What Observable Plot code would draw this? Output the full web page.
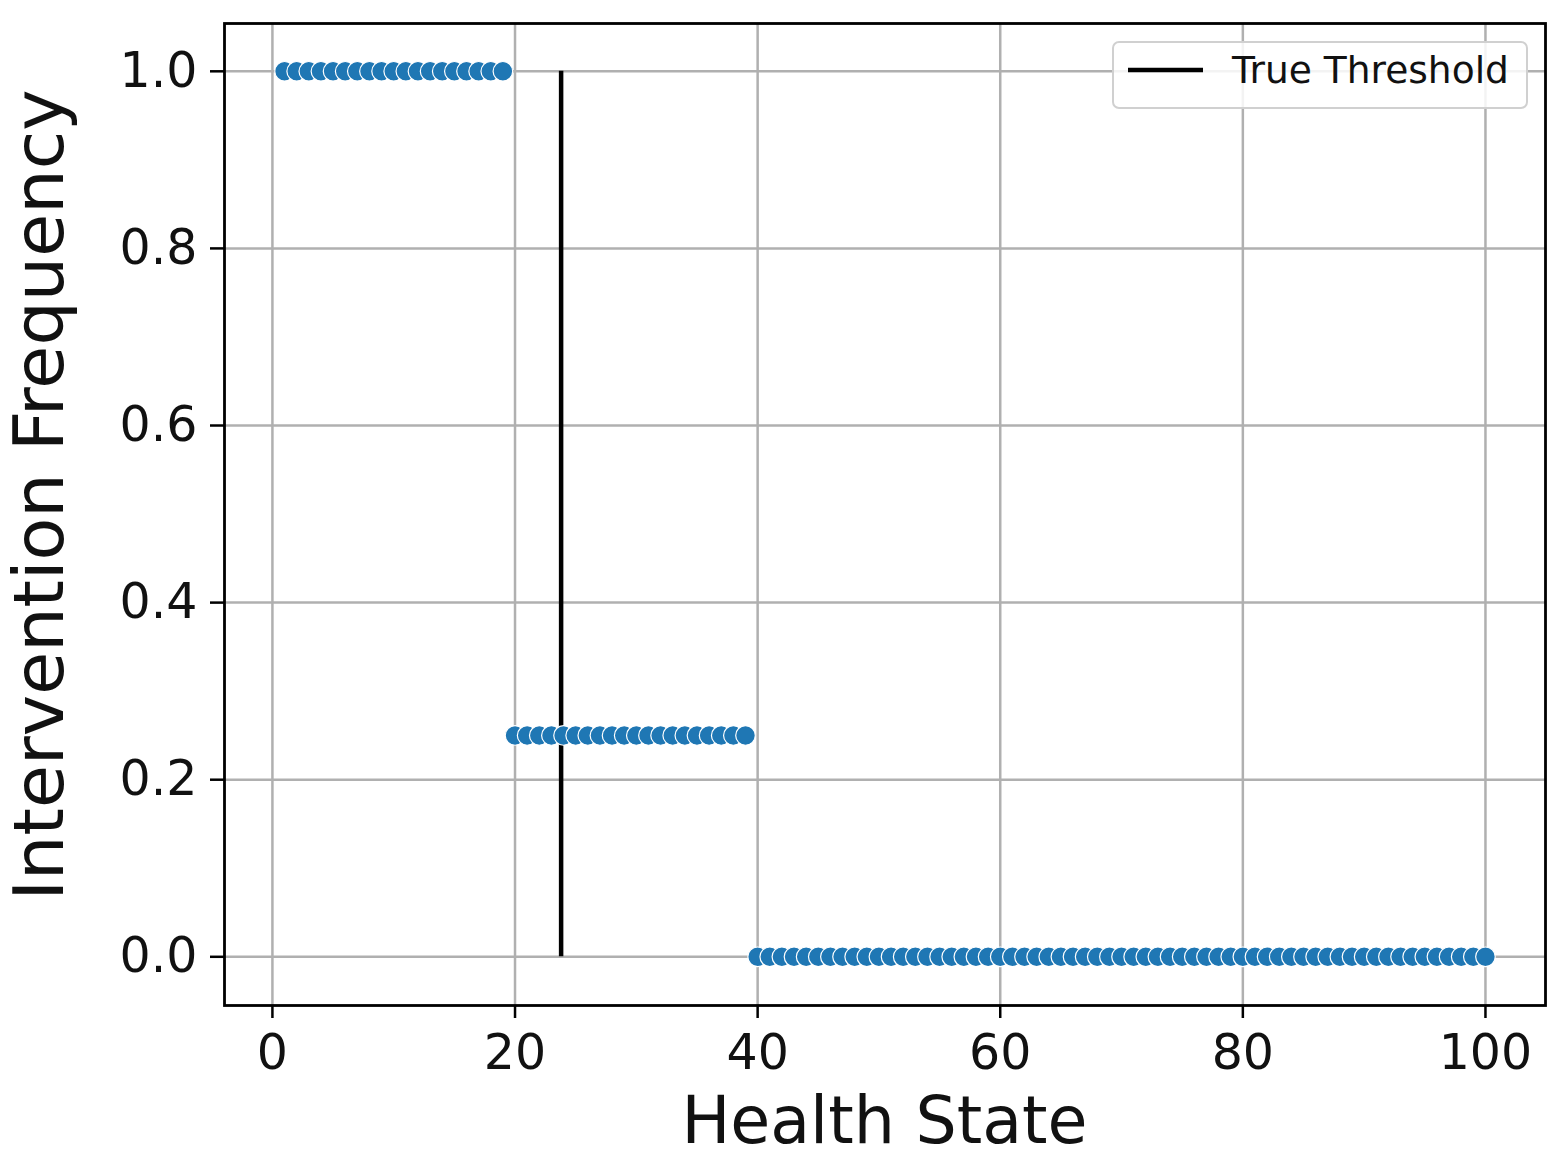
<!DOCTYPE html>
<html>
<head>
<meta charset="utf-8">
<script src="https://cdn.jsdelivr.net/npm/d3@7"></script>
<script src="https://cdn.jsdelivr.net/npm/@observablehq/plot@0.6"></script>
<style>
  html, body { margin: 0; padding: 0; background: #fff; }
  #chart { width: 1560px; height: 1160px; }
  svg { font-family: "DejaVu Sans", sans-serif; }
</style>
</head>
<body>
<div id="chart"></div>
<script>
// Health states (x) and intervention frequency (y)
const healthState = [
  1,2,3,4,5,6,7,8,9,10,11,12,13,14,15,16,17,18,19,
  20,21,22,23,24,25,26,27,28,29,30,31,32,33,34,35,36,37,38,39,
  40,41,42,43,44,45,46,47,48,49,50,51,52,53,54,55,56,57,58,59,
  60,61,62,63,64,65,66,67,68,69,70,71,72,73,74,75,76,77,78,79,
  80,81,82,83,84,85,86,87,88,89,90,91,92,93,94,95,96,97,98,99,100
];
const frequency = [
  1,1,1,1,1,1,1,1,1,1,1,1,1,1,1,1,1,1,1,
  0.25,0.25,0.25,0.25,0.25,0.25,0.25,0.25,0.25,0.25,0.25,0.25,0.25,0.25,0.25,0.25,0.25,0.25,0.25,0.25,
  0,0,0,0,0,0,0,0,0,0,0,0,0,0,0,0,0,0,0,0,
  0,0,0,0,0,0,0,0,0,0,0,0,0,0,0,0,0,0,0,0,
  0,0,0,0,0,0,0,0,0,0,0,0,0,0,0,0,0,0,0,0,0
];
const trueThreshold = [{x: 23.8, y1: 0, y2: 1}];
const xTicks = [0, 20, 40, 60, 80, 100];
const yTicks = [0, 0.2, 0.4, 0.6, 0.8, 1.0];
const xLabel = "Health State";
const yLabel = "Intervention Frequency";
const legendLabel = "True Threshold";

const points = healthState.map((x, i) => ({x, y: frequency[i]}));

const W = 1560, H = 1160;
const mL = 224, mT = 23, mR = 15, mB = 155;

const plot = Plot.plot({
  width: W,
  height: H,
  marginLeft: mL,
  marginTop: mT,
  marginRight: mR,
  marginBottom: mB,
  style: {fontFamily: "DejaVu Sans, sans-serif", background: "white", overflow: "visible"},
  x: {domain: [-3.95, 104.95]},
  y: {domain: [-0.055, 1.054]},
  marks: [
    Plot.gridX(xTicks, {stroke: "#b0b0b0", strokeOpacity: 1, strokeWidth: 2.5}),
    Plot.gridY(yTicks, {stroke: "#b0b0b0", strokeOpacity: 1, strokeWidth: 2.5}),
    Plot.axisX(xTicks, {tickSize: 13, tickPadding: 16, fontSize: 49, tickFormat: d => String(d), label: null, stroke: "black", strokeWidth: 2.5, color: "#111"}),
    Plot.axisY(yTicks, {tickSize: 14, tickPadding: 13, fontSize: 49, tickFormat: d => d.toFixed(1), label: null, stroke: "black", strokeWidth: 2.5, color: "#111"}),
    Plot.ruleX(trueThreshold, {x: "x", y1: "y1", y2: "y2", stroke: "black", strokeWidth: 4.5}),
    Plot.dot(points, {x: "x", y: "y", r: 9.8, fill: "#1f77b4", stroke: "white", strokeWidth: 1.2}),
    Plot.frame({stroke: "black", strokeWidth: 2.8})
  ]
});

const svg = d3.select(plot);
// Axis titles
svg.append("text")
  .attr("x", (mL + (W - mR)) / 2)
  .attr("y", 1143)
  .attr("text-anchor", "middle")
  .attr("font-size", 65)
  .attr("fill", "#111")
  .text(xLabel);
svg.append("text")
  .attr("transform", "translate(63,495) rotate(-90)")
  .attr("text-anchor", "middle")
  .attr("font-size", 70)
  .attr("fill", "#111")
  .text(yLabel);

// Legend
const lg = svg.append("g");
lg.append("rect")
  .attr("x", 1113).attr("y", 42).attr("width", 414).attr("height", 66)
  .attr("rx", 6).attr("fill", "white").attr("fill-opacity", 0.85)
  .attr("stroke", "#d0d0d0").attr("stroke-width", 2);
lg.append("line")
  .attr("x1", 1128).attr("x2", 1203).attr("y1", 70).attr("y2", 70)
  .attr("stroke", "black").attr("stroke-width", 4.5);
lg.append("text")
  .attr("x", 1232).attr("y", 83)
  .attr("text-anchor", "start")
  .attr("font-size", 37.6).attr("fill", "#111")
  .text(legendLabel);

document.getElementById("chart").appendChild(plot);
</script>
</body>
</html>
